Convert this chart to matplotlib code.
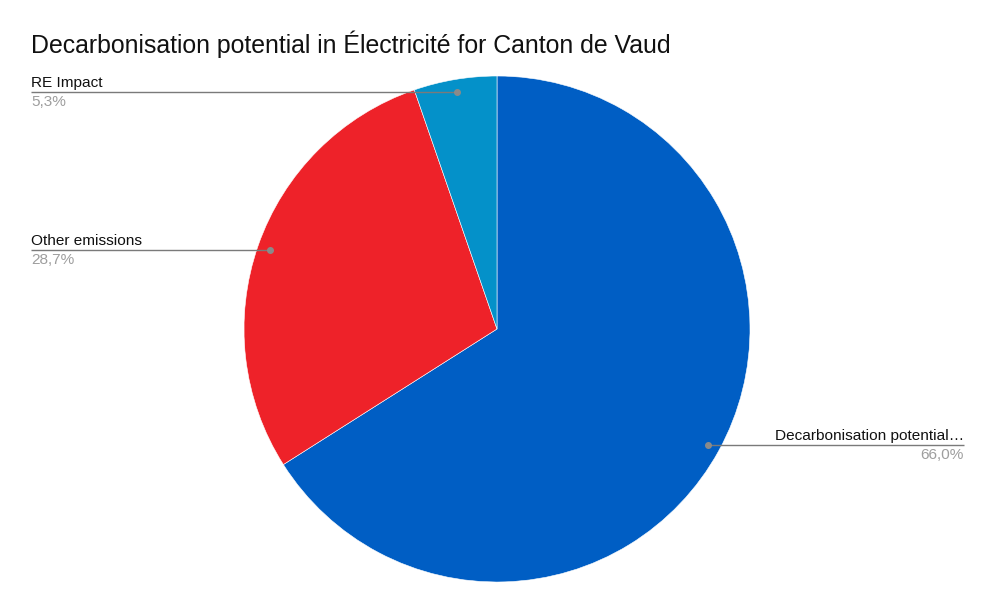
import numpy as np
import matplotlib.pyplot as plt

plt.rcParams['font.family'] = ['Liberation Sans', 'DejaVu Sans']

labels = ['Decarbonisation potential…', 'Other emissions', 'RE Impact']
values = [66.0, 28.7, 5.3]
pct_labels = ['66,0%', '28,7%', '5,3%']
colors = ['#005ec4', '#ee2229', '#0491c9']

W, H = 995, 613
fig = plt.figure(figsize=(W / 100, H / 100), dpi=100)
ax = fig.add_axes([0, 0, 1, 1])
ax.set_xlim(0, W)
ax.set_ylim(0, H)
ax.set_aspect('equal')
ax.axis('off')

cx, cy, r = 497, H - 329, 253
wedges, _ = ax.pie(values, colors=colors, startangle=90, counterclock=False,
                   center=(cx, cy), radius=r,
                   wedgeprops=dict(edgecolor='white', linewidth=0.4))
ax.set_xlim(0, W)
ax.set_ylim(0, H)

# label ends: x of text anchor, side
label_x = [964, 31, 31]
for w, lab, pct, lx in zip(wedges, labels, pct_labels, label_x):
    mid = np.deg2rad((w.theta1 + w.theta2) / 2)
    px = cx + 0.95 * r * np.cos(mid)
    py = cy + 0.95 * r * np.sin(mid)
    ax.plot([px, lx], [py, py], color='#7a7a7a', lw=1.0, solid_capstyle='butt')
    ax.plot(px, py, 'o', color='#8a8a8a', ms=4)
    ha = 'right' if lx > cx else 'left'
    ax.text(lx, py + 2, lab, ha=ha, va='bottom', fontsize=11.1, color='#111111')
    ax.text(lx, py - 3, pct, ha=ha, va='top', fontsize=11.1, color='#9e9e9e')

fig.text(31 / W, 1 - 44 / H, 'Decarbonisation potential in Électricité for Canton de Vaud',
         ha='left', va='center', fontsize=17.9, color='#111111')

fig.savefig('out.png', dpi=100)
